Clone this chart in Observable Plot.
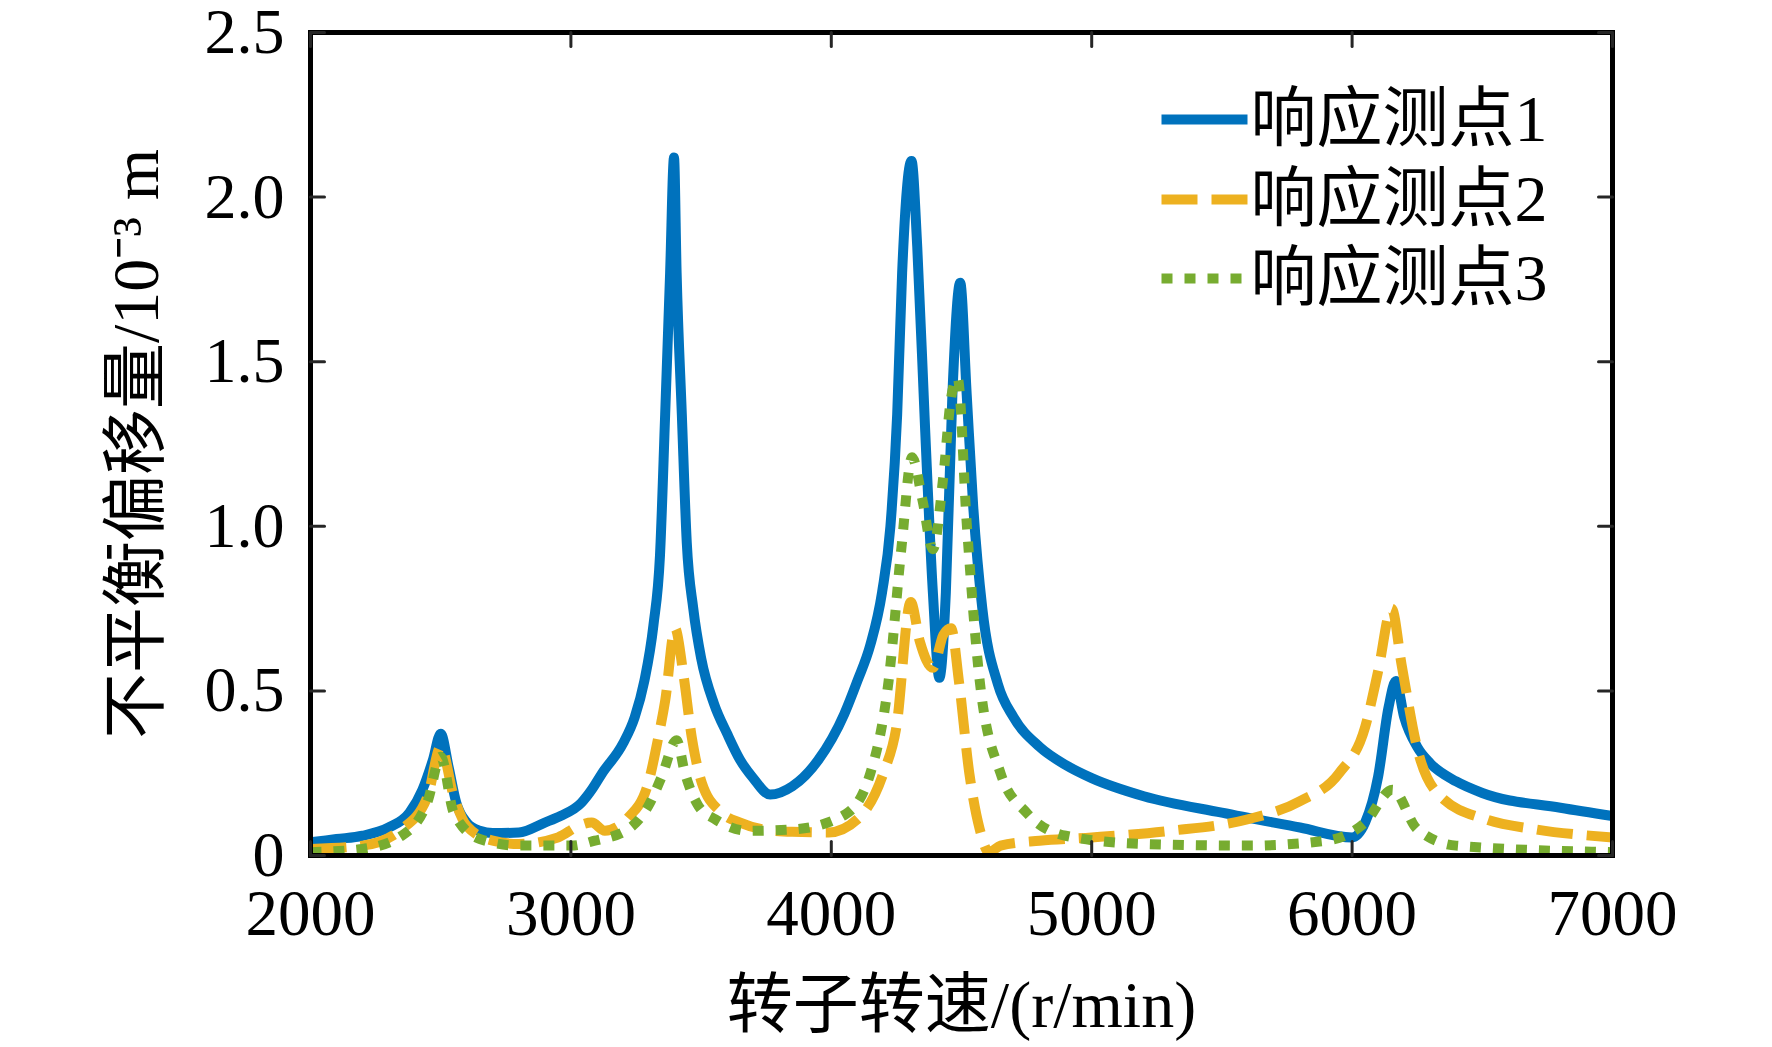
<!DOCTYPE html>
<html>
<head>
<meta charset="utf-8">
<script src="https://cdn.jsdelivr.net/npm/d3@7"></script>
<script src="https://cdn.jsdelivr.net/npm/@observablehq/plot@0.6"></script>
<style>
  html, body { margin: 0; padding: 0; background: #fff; overflow: hidden; }
  #chart svg { display: block; }
</style>
</head>
<body>
<div id="chart"></div>
<script>
// ---- Data ----
const seriesNames = ["响应测点1", "响应测点2", "响应测点3"];
const seriesColors = ["#0072BD", "#EDB120", "#77AC30"];
const seriesDash = [null, "36,14", "11,12"];

const xTicks = [2000, 3000, 4000, 5000, 6000, 7000];
const yTicks = [0, 0.5, 1.0, 1.5, 2.0, 2.5];
const yTickLabels = ["0", "0.5", "1.0", "1.5", "2.0", "2.5"];

// 响应测点1
const speed1 = [2000,2100,2200,2300,2380,2430,2470,2500,2530,2560,2600,2650,2700,2800,2900,2960,3040,3080,3120,3200,3245,3282,3317,3342,3362,3381,3396,3406,3426,3445,3470,3500,3550,3600,3650,3700,3765,3850,3950,4050,4100,4150,4195,4227,4253,4272,4308,4330,4360,4390,4415,4440,4465,4495,4520,4545,4580,4640,4700,4800,4900,5000,5200,5500,5800,6000,6050,6100,6140,6168,6200,6250,6300,6400,6500,6800,7000];
const disp1  = [0.04,0.05,0.06,0.085,0.13,0.2,0.29,0.37,0.27,0.16,0.1,0.075,0.068,0.07,0.1,0.12,0.16,0.2,0.25,0.34,0.42,0.53,0.7,0.91,1.34,1.77,2.12,1.77,1.34,0.95,0.75,0.6,0.46,0.37,0.29,0.235,0.185,0.21,0.29,0.43,0.53,0.64,0.8,1.0,1.34,1.77,2.11,1.85,1.3,0.8,0.54,0.8,1.4,1.74,1.4,1.06,0.75,0.52,0.42,0.33,0.275,0.235,0.18,0.13,0.085,0.055,0.1,0.24,0.45,0.53,0.42,0.33,0.28,0.225,0.19,0.145,0.12];

// 响应测点2
const speed2 = [2000,2200,2350,2450,2500,2550,2600,2700,2800,2950,3030,3080,3130,3176,3220,3297,3336,3362,3400,3432,3464,3503,3579,3650,3733,3850,3990,4100,4200,4250,4305,4340,4390,4430,4460,4490,4530,4570,4605,4650,4800,5000,5300,5600,5800,5950,6050,6100,6152,6190,6252,6339,6513,6700,7000];
const disp2  = [0.02,0.03,0.08,0.18,0.33,0.18,0.09,0.045,0.035,0.055,0.09,0.1,0.075,0.086,0.115,0.22,0.36,0.47,0.69,0.55,0.36,0.22,0.13,0.1,0.08,0.072,0.07,0.11,0.25,0.39,0.77,0.65,0.57,0.67,0.69,0.53,0.25,0.08,0.01,0.03,0.045,0.055,0.075,0.11,0.165,0.25,0.39,0.56,0.75,0.58,0.32,0.18,0.11,0.08,0.055];

// 响应测点3
const speed3 = [2000,2200,2350,2450,2500,2550,2650,2800,3000,3092,3220,3297,3349,3406,3438,3490,3554,3682,3862,4054,4150,4220,4270,4310,4350,4390,4430,4460,4485,4520,4570,4650,4750,4900,5200,5600,5900,6050,6155,6250,6400,7000];
const disp3  = [0.01,0.02,0.06,0.165,0.3,0.13,0.05,0.03,0.03,0.045,0.08,0.15,0.24,0.35,0.25,0.15,0.11,0.075,0.08,0.125,0.25,0.53,0.94,1.21,1.08,0.93,1.15,1.39,1.45,1.01,0.53,0.25,0.13,0.06,0.035,0.03,0.045,0.1,0.2,0.08,0.03,0.01];

const speeds = [speed1, speed2, speed3];
const disps = [disp1, disp2, disp3];

const table = [];
seriesNames.forEach((name, i) => {
  speeds[i].forEach((s, j) => table.push({series: name, speed: s, disp: disps[i][j]}));
});

const FONT = '"Liberation Serif", "Times New Roman", "Noto Sans CJK SC", serif';
const tickLen = 14;
const tickShape = {draw(context, l) { context.moveTo(0, 0); context.lineTo(0, -l); }};

const lineMarks = seriesNames.map((name, i) =>
  Plot.line(table.filter(d => d.series === name), {
    x: "speed", y: "disp",
    stroke: seriesColors[i], strokeWidth: 10,
    strokeDasharray: seriesDash[i] || undefined,
    strokeLinecap: "butt", strokeLinejoin: "round",
    curve: "monotone-x"
  })
);

const legendRows = [87, 167, 246];
const legendMarks = [];
seriesNames.forEach((name, i) => {
  legendMarks.push(Plot.vector([name], {
    frameAnchor: "top-right", dx: -451, dy: legendRows[i],
    length: 86, rotate: 90, anchor: "start", shape: tickShape,
    stroke: seriesColors[i], strokeWidth: 10,
    strokeDasharray: seriesDash[i] || undefined, strokeLinecap: "butt"
  }));
  legendMarks.push(Plot.text([name], {
    frameAnchor: "top-right", dx: -362, dy: legendRows[i],
    text: d => d, textAnchor: "start", lineAnchor: "middle",
    fontSize: 66, fill: "black"
  }));
});

const chart = Plot.plot({
  width: 1772,
  height: 1047,
  marginLeft: 310,
  marginRight: 160,
  marginTop: 32,
  marginBottom: 192,
  style: {fontFamily: FONT, background: "white", color: "black"},
  x: {domain: [2000, 7000]},
  y: {domain: [0, 2.5]},
  marks: [
    ...lineMarks,
    Plot.frame({stroke: "black", strokeWidth: 5}),
    // inward ticks on all four sides
    Plot.vector(yTicks, {y: d => d, frameAnchor: "left", length: tickLen, rotate: 90, anchor: "start", shape: tickShape, stroke: "#262626", strokeWidth: 3}),
    Plot.vector(yTicks, {y: d => d, frameAnchor: "right", length: tickLen, rotate: -90, anchor: "start", shape: tickShape, stroke: "#262626", strokeWidth: 3}),
    Plot.vector(xTicks, {x: d => d, frameAnchor: "bottom", length: tickLen, rotate: 0, anchor: "start", shape: tickShape, stroke: "#262626", strokeWidth: 3}),
    Plot.vector(xTicks, {x: d => d, frameAnchor: "top", length: tickLen, rotate: 180, anchor: "start", shape: tickShape, stroke: "#262626", strokeWidth: 3}),
    Plot.axisX({ticks: xTicks, tickSize: 0, tickPadding: 33, fontSize: 65, label: null, tickFormat: d => String(d)}),
    Plot.axisY({ticks: yTicks, tickSize: 0, tickPadding: 26, fontSize: 64, label: null, tickFormat: d => yTickLabels[yTicks.indexOf(d)]}),
    Plot.text(["转子转速/(r/min)"], {frameAnchor: "bottom", dy: 150, text: d => d, fontSize: 66, textAnchor: "middle", lineAnchor: "middle", fill: "black"}),
    Plot.text(["不平衡偏移量/10⁻³ m"], {frameAnchor: "left", dx: -174, rotate: -90, text: d => d, fontSize: 66, textAnchor: "middle", lineAnchor: "middle", fill: "black"}),
    ...legendMarks
  ]
});

document.getElementById("chart").appendChild(chart);
</script>
</body>
</html>
